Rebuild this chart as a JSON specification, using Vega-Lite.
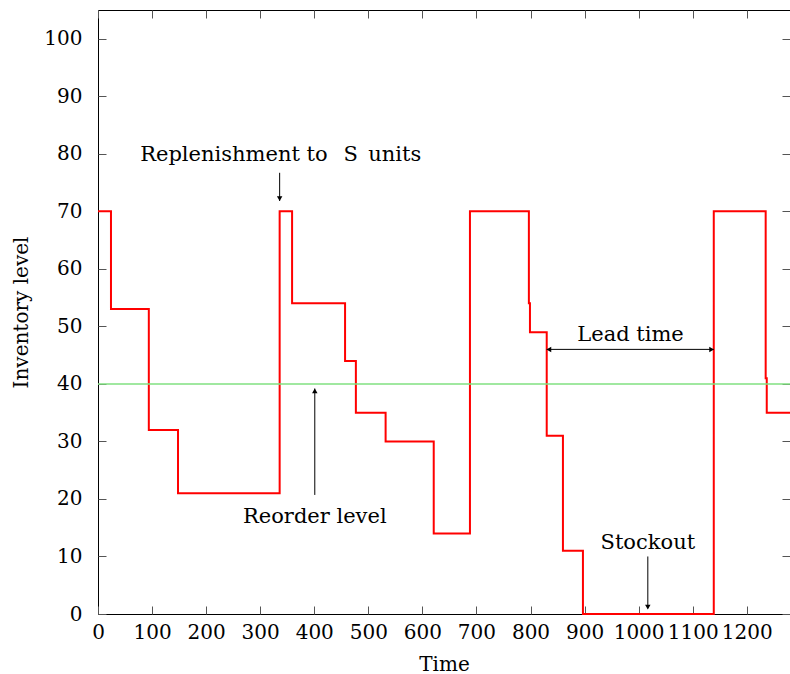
{
  "$schema": "https://vega.github.io/schema/vega-lite/v6.json",
  "width": 692,
  "height": 604,
  "autosize": "none",
  "padding": {"left": 98, "top": 10, "right": 0, "bottom": 60},
  "background": "white",
  "config": {
    "font": "DejaVu Serif",
    "view": {"stroke": "black", "strokeWidth": 1},
    "text": {"font": "DejaVu Serif"},
    "axis": {
      "grid": false,
      "domain": false,
      "tickColor": "#555555",
      "tickSize": -8,
      "tickWidth": 1,
      "labelFont": "DejaVu Serif",
      "labelFontSize": 20,
      "labelColor": "black",
      "labelOverlap": false,
      "titleFont": "DejaVu Serif",
      "titleFontSize": 20,
      "titleFontWeight": "normal",
      "titleColor": "black"
    }
  },
  "datasets": {
    "inv": [
      {"t": 0, "level": 70}, {"t": 24, "level": 53}, {"t": 94, "level": 32},
      {"t": 148, "level": 21}, {"t": 336, "level": 70}, {"t": 359, "level": 54},
      {"t": 457, "level": 44}, {"t": 477, "level": 35}, {"t": 532, "level": 30},
      {"t": 621, "level": 14}, {"t": 688, "level": 70}, {"t": 797, "level": 54},
      {"t": 799, "level": 49}, {"t": 830, "level": 31}, {"t": 860, "level": 11},
      {"t": 897, "level": 0}, {"t": 1139, "level": 70}, {"t": 1235, "level": 41},
      {"t": 1237, "level": 35}, {"t": 1280, "level": 35}
    ],
    "vrules": [
      {"x": 336, "y": 76.7, "y2": 71.8},
      {"x": 401, "y": 20.7, "y2": 39.2},
      {"x": 1017, "y": 10.0, "y2": 1.0}
    ],
    "heads": [
      {"x": 336, "y": 72.2, "shape": "triangle-down"},
      {"x": 401, "y": 38.8, "shape": "triangle-up"},
      {"x": 1017, "y": 1.2, "shape": "triangle-down"},
      {"x": 834, "y": 46, "shape": "triangle-left"},
      {"x": 1135, "y": 46, "shape": "triangle-right"}
    ],
    "labels": [
      {"x": 78, "y": 78.8, "text": "Replenishment to", "style": "normal", "align": "left"},
      {"x": 454, "y": 78.8, "text": "S", "style": "italic", "align": "left"},
      {"x": 500, "y": 78.8, "text": "units", "style": "normal", "align": "left"},
      {"x": 401, "y": 15.8, "text": "Reorder level", "style": "normal", "align": "center"},
      {"x": 985, "y": 47.4, "text": "Lead time", "style": "normal", "align": "center"},
      {"x": 1017, "y": 11.3, "text": "Stockout", "style": "normal", "align": "center"}
    ]
  },
  "resolve": {"axis": {"x": "independent", "y": "independent"}},
  "layer": [
    {
      "data": {"name": "inv"},
      "mark": {"type": "line", "interpolate": "step-after", "color": "#ff0000", "strokeWidth": 2},
      "encoding": {
        "x": {"field": "t", "type": "quantitative", "scale": {"domain": [0, 1280], "nice": false, "zero": false},
              "axis": {"orient": "bottom", "values": [0,100,200,300,400,500,600,700,800,900,1000,1100,1200], "format": "d", "title": "Time", "labelPadding": 16, "titlePadding": 12, "labelFlush": false}},
        "y": {"field": "level", "type": "quantitative", "scale": {"domain": [0, 105], "nice": false},
              "axis": {"orient": "left", "values": [0,10,20,30,40,50,60,70,80,90,100], "title": "Inventory level", "labelPadding": 24, "titlePadding": 12}}
      }
    },
    {
      "data": {"values": [{"y": 40}]},
      "mark": {"type": "rule", "color": "#80e080", "strokeWidth": 1.5},
      "encoding": {
        "y": {"field": "y", "type": "quantitative", "axis": {"orient": "right", "values": [0,10,20,30,40,50,60,70,80,90,100], "labels": false, "title": null}}
      }
    },
    {
      "data": {"name": "vrules"},
      "mark": {"type": "rule", "color": "black", "strokeWidth": 1},
      "encoding": {
        "x": {"field": "x", "type": "quantitative", "axis": {"orient": "top", "values": [0,100,200,300,400,500,600,700,800,900,1000,1100,1200], "labels": false, "title": null}},
        "y": {"field": "y", "type": "quantitative", "axis": null},
        "y2": {"field": "y2"}
      }
    },
    {
      "data": {"values": [{"x": 830, "x2": 1139, "y": 46}]},
      "mark": {"type": "rule", "color": "black", "strokeWidth": 1},
      "encoding": {
        "x": {"field": "x", "type": "quantitative", "axis": null},
        "x2": {"field": "x2"},
        "y": {"field": "y", "type": "quantitative", "axis": null}
      }
    },
    {
      "data": {"name": "heads"},
      "mark": {"type": "point", "filled": true, "color": "black", "size": 30, "opacity": 1},
      "encoding": {
        "x": {"field": "x", "type": "quantitative", "axis": null},
        "y": {"field": "y", "type": "quantitative", "axis": null},
        "shape": {"field": "shape", "type": "nominal", "scale": null, "legend": null}
      }
    },
    {
      "data": {"name": "labels"},
      "transform": [{"filter": "datum.align == 'left'"}],
      "mark": {"type": "text", "align": "left", "baseline": "alphabetic", "fontSize": 21, "color": "black", "font": "DejaVu Serif"},
      "encoding": {
        "x": {"field": "x", "type": "quantitative", "axis": null},
        "y": {"field": "y", "type": "quantitative", "axis": null},
        "text": {"field": "text"},
        "fontStyle": {"field": "style", "type": "nominal", "scale": null, "legend": null}
      }
    },
    {
      "data": {"name": "labels"},
      "transform": [{"filter": "datum.align == 'center'"}],
      "mark": {"type": "text", "align": "center", "baseline": "alphabetic", "fontSize": 21, "color": "black", "font": "DejaVu Serif"},
      "encoding": {
        "x": {"field": "x", "type": "quantitative", "axis": null},
        "y": {"field": "y", "type": "quantitative", "axis": null},
        "text": {"field": "text"}
      }
    }
  ]
}
